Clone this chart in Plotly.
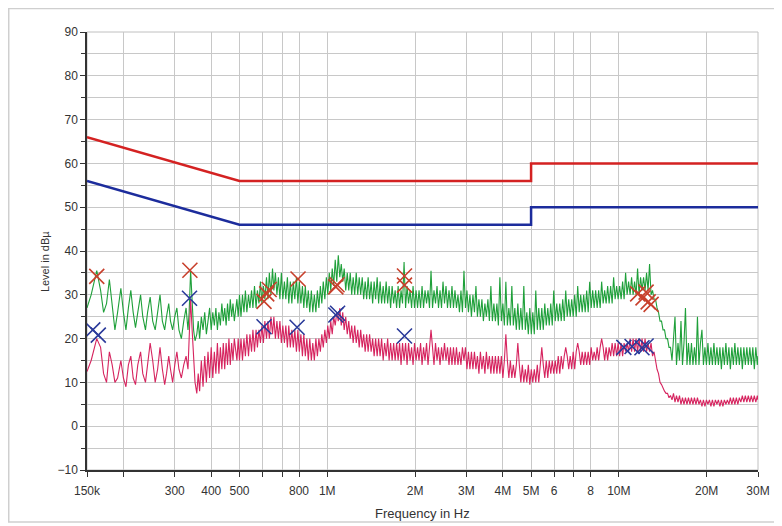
import numpy as np
import plotly.graph_objects as go

# ---------------- data ----------------
# shared frequency grid of the two scans (kHz)
freq_khz = [
    150, 155, 162, 167, 171, 175, 179, 183, 187, 191, 196, 200, 204, 208, 212, 216, 220, 224, 229, 233,
    238, 242, 247, 252, 257, 262, 267, 272, 277, 281, 286, 290, 295, 300, 305, 310, 316, 322, 328, 333,
    336, 340, 344, 348, 352, 357, 361, 365, 370, 375, 380, 385, 390, 395, 400, 405, 410, 415, 420, 425,
    430, 435, 440, 445, 450, 455, 460, 465, 470, 475, 480, 490, 495,
    500, 506, 512, 518, 524, 530, 537, 543, 550, 556, 563, 570, 576, 583, 590, 597, 604, 611, 619, 626,
    633, 641, 649, 656, 664, 672, 680, 688, 696, 704, 713, 721, 730, 738, 747, 756, 765, 774, 784, 793,
    802, 812, 822, 831, 841, 851, 861, 871, 882, 892, 903, 914, 925, 936, 947, 958, 969, 981, 993, 1004,
    1016, 1028, 1040, 1052, 1065, 1078, 1091, 1104, 1117, 1130, 1143, 1157, 1171, 1185, 1199, 1213, 1227, 1242, 1257, 1272,
    1287, 1302, 1318, 1333, 1349, 1365, 1381, 1397, 1414, 1431, 1448, 1465, 1483, 1500, 1518, 1536, 1555, 1573, 1592, 1611,
    1630, 1649, 1669, 1689, 1709, 1729, 1750, 1770, 1791, 1812, 1834, 1856, 1878, 1900, 1923, 1946, 1969, 1992, 2016, 2040,
    2064, 2089, 2114, 2139, 2164, 2190, 2216, 2242, 2269, 2296, 2323, 2351, 2379, 2407, 2436, 2465, 2494, 2524, 2554, 2584,
    2615, 2646, 2677, 2709, 2741, 2774, 2807, 2840, 2874, 2908, 2943, 2978, 3013, 3049, 3085, 3122, 3159, 3197, 3235, 3273,
    3312, 3351, 3391, 3431, 3472, 3513, 3555, 3597, 3640, 3683, 3727, 3772, 3817, 3862, 3908, 3954, 4001, 4049, 4097, 4146,
    4195, 4245, 4295, 4346, 4398, 4450, 4503, 4557, 4611, 4666, 4721, 4777, 4834, 4892, 4950, 5009, 5068, 5128, 5189, 5251,
    5313, 5377, 5441, 5506, 5571, 5637, 5704, 5772, 5840, 5910, 5980, 6051, 6123, 6196, 6270, 6345, 6420, 6496, 6573, 6651,
    6730, 6810, 6891, 6973, 7056, 7140, 7225, 7311, 7398, 7486, 7575, 7665, 7756, 7849, 7942, 8036, 8132, 8229, 8326, 8425,
    8525, 8626, 8729, 8833, 8938, 9044, 9152, 9261, 9371, 9483, 9595, 9709, 9824, 9941, 10060, 10180, 10300, 10423, 10546, 10672,
    10798, 10927, 11057, 11189, 11321, 11456, 11592, 11730, 11869, 12010, 12153, 12298, 12444, 12592, 12742, 12893, 13046, 13202, 13358, 13518,
    13678, 13841, 14005, 14172, 14340, 14511, 14683, 14858, 15034, 15213, 15394, 15577, 15762, 15950, 16139, 16331, 16525, 16722, 16920, 17122,
    17325, 17531, 17739, 17950, 18163, 18379, 18598, 18820, 19043, 19270, 19498, 19730, 19964, 20202, 20442, 20686, 20931, 21180, 21431, 21686,
    21944, 22205, 22469, 22736, 23006, 23280, 23556, 23837, 24120, 24407, 24697, 24991, 25287, 25588, 25892, 26200, 26511, 26827, 27145, 27468,
    27794, 28125, 28459, 28798, 29140, 29487, 29837, 30000,
]

# peak detector scan (green), dBuV
peak_level = [
    27, 30, 35.5, 31, 26, 28, 33.5, 27, 22, 26, 31.5, 26, 22, 27, 31, 26, 22.5, 26, 30, 25,
    22, 26, 29.5, 24, 22, 26, 30, 24, 22, 25, 28, 24, 22, 25, 27, 22, 20, 24, 27, 22,
    26, 35.5, 28, 22, 19.5, 21, 24, 20, 25, 22, 26, 21, 24, 27, 22, 26, 23, 27, 22, 26,
    23, 28, 24, 27, 23, 28, 24, 29, 25, 28, 24, 29, 25,
    30, 25, 30, 26, 31, 26, 30, 27, 31, 27, 32, 27, 31, 28, 33, 28, 32, 29, 34, 29,
    35, 30, 36, 31, 35, 30, 34, 29, 35, 29, 33, 29, 34, 28, 33, 28, 33, 29, 34, 28,
    33, 28, 32, 27, 32, 27, 31, 26, 31, 26, 30, 26, 31, 27, 32, 28, 33, 29, 34, 30,
    35, 31, 36, 32, 38, 33, 39, 34, 37, 33, 36, 31, 35, 31, 35, 30, 34, 30, 35, 30,
    34, 30, 34, 29, 33, 29, 34, 29, 33, 28, 33, 29, 34, 28, 33, 28, 32, 28, 33, 28,
    32, 27, 32, 28, 31, 27, 32, 27, 31, 28, 37.5, 27, 32, 28, 31, 27, 32, 27, 31, 27,
    31, 27, 32, 27, 31, 28, 31, 27, 35.5, 27, 31, 28, 32, 27, 31, 27, 33, 28, 32, 27,
    31, 27, 32, 27, 31, 27, 30, 26, 31, 26, 35.5, 27, 31, 26, 30, 25, 30, 26, 32, 25,
    29, 25, 29, 24, 28, 25, 29, 24, 32, 24, 28, 24, 28, 23, 34, 24, 28, 23, 33, 23,
    27, 23, 32, 23, 27, 22, 28, 22, 27, 22, 32, 22, 26, 21, 27, 21, 26, 21, 31, 22,
    27, 22, 27, 22, 28, 23, 27, 23, 28, 23, 31, 24, 28, 24, 28, 24, 29, 24, 31, 25,
    29, 25, 29, 25, 30, 25, 32, 26, 30, 26, 30, 26, 31, 26, 33, 27, 31, 27, 31, 27,
    31, 27, 33, 28, 31, 28, 32, 28, 32, 28, 34, 29, 32, 29, 32, 29, 33, 29, 35, 30,
    33, 30, 34, 30, 33, 30, 36, 30, 34, 31, 34, 31, 35, 31, 37, 30, 31, 29, 29, 27,
    26, 24, 24, 22, 22, 20, 20, 18, 18, 15, 19, 25, 14, 19, 15, 24, 14, 19, 27, 14,
    19, 14, 19, 14, 18, 14, 25, 14, 19, 22, 14, 18, 14, 19, 14, 18, 14, 19, 14, 18,
    14, 18, 13, 18, 14, 19, 14, 18, 13, 18, 14, 19, 14, 18, 14, 18, 13, 18, 14, 18,
    14, 18, 14, 18, 13, 18, 14, 16,
]

# average detector scan (crimson), dBuV
avg_level = [
    12.5, 15, 20, 18, 12, 10, 17, 14, 10, 11, 15, 11, 9, 14, 16, 11, 9.5, 14, 17, 12,
    10, 14, 19, 15, 10, 13, 18, 13, 9.5, 12, 16, 13, 10, 14, 17, 13, 11, 14, 16, 13,
    21, 29, 22, 14, 10, 7.5, 12, 8, 15, 9, 16, 10, 17, 11, 18, 11, 17, 12, 19, 12,
    18, 13, 19, 13, 19, 14, 20, 14, 19, 15, 20, 15, 20,
    15, 20, 15, 20, 16, 21, 16, 21, 17, 22, 17, 22, 18, 22, 19, 23, 19, 24, 20, 24,
    20, 25, 21, 25, 20, 24, 20, 24, 19, 23, 19, 23, 18, 23, 18, 22, 18, 22, 17, 22,
    17, 21, 16, 21, 16, 20, 15, 20, 15, 19, 15, 20, 16, 20, 17, 21, 18, 22, 19, 23,
    20, 24, 21, 25, 23, 26, 24, 27, 23, 26, 22, 25, 21, 24, 20, 23, 19, 23, 19, 22,
    18, 22, 18, 21, 17, 21, 17, 21, 17, 20, 16, 20, 16, 20, 16, 20, 15, 19, 16, 20,
    15, 19, 15, 19, 15, 19, 15, 19, 14, 19, 15, 19, 14, 19, 15, 18, 14, 19, 15, 18,
    15, 19, 14, 18, 15, 19, 14, 18, 22, 18, 14, 19, 15, 18, 14, 18, 15, 19, 15, 18,
    14, 18, 14, 18, 14, 18, 14, 17, 14, 18, 15, 18, 13, 17, 13, 17, 13, 17, 13, 16,
    12, 17, 13, 16, 12, 17, 13, 16, 12, 16, 12, 16, 12, 16, 12, 16, 11, 15, 21, 15,
    11, 15, 11, 14, 11, 14, 19, 14, 10, 14, 10, 13, 10, 14, 9.5, 13, 10, 13, 10, 14,
    10, 14, 18, 14, 11, 15, 11, 15, 12, 15, 12, 15, 12, 16, 12, 16, 13, 16, 18, 16,
    13, 16, 13, 17, 13, 17, 19, 17, 14, 17, 14, 17, 14, 17, 14, 18, 15, 17, 15, 18,
    15, 18, 20, 18, 15, 18, 15, 18, 16, 19, 16, 19, 16, 19, 16, 19, 16, 19, 17, 19,
    17, 20, 17, 20, 17, 20, 17, 20, 17, 20, 17, 20, 17, 19, 17, 19, 16, 17, 15, 13,
    12, 10, 9.5, 8.5, 8, 7.5, 7.5, 6.5, 7, 6, 7.5, 5.5, 7, 5.5, 7, 5, 6.5, 5, 6.5, 5,
    6.5, 5, 6.5, 5, 6.5, 5, 6.5, 5, 6, 4.5, 6, 4.5, 6, 5, 6, 4.5, 6, 4.5, 6, 5,
    6, 4.5, 6, 4.5, 6, 5, 6, 5, 6.5, 5, 6.5, 5, 6.5, 5, 6.5, 5.5, 7, 5.5, 7, 5.5,
    7, 5.5, 7, 5.5, 7, 5.5, 7, 6,
]

# CISPR limit lines
limit_freq_khz = [150, 500, 5000, 5000, 30000]
qp_limit = [66, 56, 56, 60, 60]
av_limit = [56, 46, 46, 50, 50]

# final measurement markers
qp_mark_khz = [162, 338, 607, 620, 632, 794, 1070, 1080, 1840, 1840, 11600, 12100, 12400, 12600, 12900]
qp_mark_level = [34.2, 35.6, 28.5, 30.2, 31.2, 33.6, 31.8, 32.3, 34.3, 32.2, 30.2, 29.3, 30.6, 28.4, 27.8]
av_mark_khz = [157, 164, 337, 607, 788, 1070, 1085, 1840, 10400, 11100, 12000, 12400]
av_mark_level = [22.0, 20.8, 29.2, 22.7, 22.6, 25.4, 25.8, 20.6, 18.0, 18.2, 17.9, 18.3]

# axis ticks
x_tick_hz = [150e3, 200e3, 300e3, 400e3, 500e3, 600e3, 700e3, 800e3, 1e6, 2e6, 3e6, 4e6, 5e6,
             6e6, 7e6, 8e6, 10e6, 20e6, 30e6]
x_tick_text = ["150k", "", "300", "400", "500", "", "", "800", "1M", "2M", "3M", "4M", "5M",
               "6", "", "8", "10M", "20M", "30M"]
y_tick_vals = [-10, 0, 10, 20, 30, 40, 50, 60, 70, 80, 90]

assert len(freq_khz) == len(peak_level) == len(avg_level), (
    len(freq_khz), len(peak_level), len(avg_level))

# ---------------- figure ----------------
def hz(lst):
    return [v * 1e3 for v in lst]

FONT = "Liberation Sans, Arial, sans-serif"
fig = go.Figure()

fig.add_trace(go.Scatter(x=hz(freq_khz), y=peak_level, mode="lines",
                         line=dict(color="#1fa03a", width=1.1), name="Peak"))
fig.add_trace(go.Scatter(x=hz(freq_khz), y=avg_level, mode="lines",
                         line=dict(color="#d6245f", width=1.1), name="Average"))
fig.add_trace(go.Scatter(x=hz(limit_freq_khz), y=qp_limit, mode="lines",
                         line=dict(color="#d42222", width=2.5), name="QP limit"))
fig.add_trace(go.Scatter(x=hz(limit_freq_khz), y=av_limit, mode="lines",
                         line=dict(color="#1c2c9c", width=2.5), name="AV limit"))
fig.add_trace(go.Scatter(x=hz(qp_mark_khz), y=qp_mark_level, mode="markers",
                         marker=dict(symbol="x-thin", size=15,
                                     line=dict(color="#c8402c", width=1.6)),
                         name="QP"))
fig.add_trace(go.Scatter(x=hz(av_mark_khz), y=av_mark_level, mode="markers",
                         marker=dict(symbol="x-thin", size=15,
                                     line=dict(color="#2a3a9a", width=1.6)),
                         name="AV"))

# page offset of the figure (body margin) = 8 px
OFF = 8
W, H = 774, 518
L = 87 - OFF            # plot left edge on page at x=87
T = 32 - OFF            # plot top edge on page at y=32
R = W - (760 - OFF)     # plot right edge on page at x=760
B = H - (470 - OFF)     # plot bottom edge on page at y=470
pw, ph = W - L - R, H - T - B

def px_x(page_x):
    return (page_x - OFF - L) / pw

def px_y(page_y):
    return (T + ph - (page_y - OFF)) / ph

fig.update_layout(
    width=W, height=H, autosize=False,
    margin=dict(l=L, r=R, t=T, b=B),
    paper_bgcolor="white", plot_bgcolor="white",
    showlegend=False,
    font=dict(family=FONT, size=12, color="#333333"),
    xaxis=dict(type="log", range=[np.log10(150e3), np.log10(30e6)],
               tickvals=x_tick_hz, ticktext=x_tick_text,
               showgrid=True, gridcolor="#c8c8c8", gridwidth=1,
               showline=True, linecolor="#333333", linewidth=1.5,
               ticks="outside", ticklen=5, tickcolor="#333333",
               zeroline=False, tickfont=dict(size=12, color="#333333"),
               ticklabelstandoff=4),
    yaxis=dict(range=[-10, 90], tickvals=y_tick_vals,
               showgrid=True, gridcolor="#c8c8c8", gridwidth=1,
               showline=True, linecolor="#333333", linewidth=1.5,
               ticks="outside", ticklen=5, tickcolor="#333333",
               zeroline=False, tickfont=dict(size=12, color="#333333"),
               minor=dict(dtick=5, showgrid=True, gridcolor="#c8c8c8",
                          ticks="outside", ticklen=4, tickcolor="#333333")),
    shapes=[
        dict(type="rect", xref="paper", yref="paper", x0=0, x1=1, y0=0, y1=1,
             line=dict(color="#c0c0c0", width=1), layer="below"),
        dict(type="rect", xref="paper", yref="paper",
             x0=px_x(8.5), x1=px_x(800),
             y0=px_y(522), y1=px_y(8.5),
             line=dict(color="#cfcfcf", width=1.5), layer="below"),
    ],
    annotations=[
        dict(text="Frequency in Hz", xref="paper", yref="paper",
             x=0.5, y=px_y(513), xanchor="center", yanchor="middle",
             showarrow=False, font=dict(size=13, color="#333333")),
        dict(text="Level in dBµ", xref="paper", yref="paper",
             x=px_x(45), y=px_y(262), xanchor="center", yanchor="middle",
             textangle=-90, showarrow=False, font=dict(size=11, color="#333333")),
    ],
)

fig.write_html("out.html")
